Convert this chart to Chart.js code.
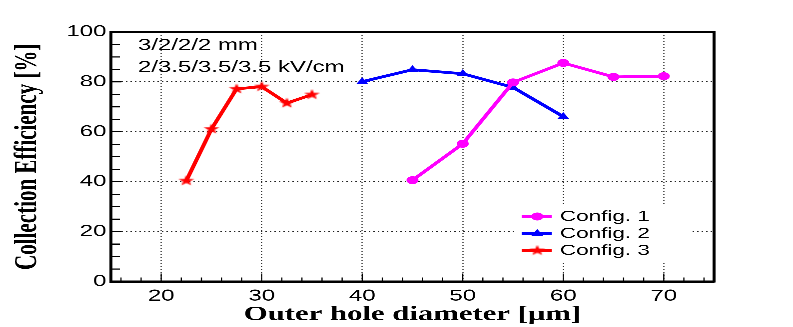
<!DOCTYPE html>
<html>
<head>
<meta charset="utf-8">
<script src="https://cdn.jsdelivr.net/npm/chart.js@4"></script>
<style>
html,body{margin:0;padding:0;background:#fff;overflow:hidden;width:793px;height:327px;}
#wrap{width:529px;height:327px;transform:scaleX(1.4991);transform-origin:0 0;}
</style>
</head>
<body>
<div id="wrap"><canvas id="c" width="529" height="327"></canvas></div>
<script>
// ---- data ----
const config1X = [45, 50, 55, 60, 65, 70];
const config1Y = [40.6, 55.2, 79.8, 87.6, 82.0, 82.3];
const config2X = [40, 45, 50, 55, 60];
const config2Y = [80.1, 84.9, 83.3, 77.8, 66.1];
const config3X = [22.5, 25, 27.5, 30, 32.5, 35];
const config3Y = [40.4, 61.1, 77.2, 78.1, 71.5, 74.9];
const seriesNames = ['Config. 1', 'Config. 2', 'Config. 3'];
const xTicks = [20, 30, 40, 50, 60, 70];
const yTicks = [0, 20, 40, 60, 80, 100];
const noteLines = ['3/2/2/2 mm', '2/3.5/3.5/3.5 kV/cm'];
const xTitle = 'Outer hole diameter [\u03BCm]';
const yTitle = 'Collection Efficiency [%]';

// star marker (canvas used directly as point style)
function makeStar(color, R) {
  const s = Math.ceil(R * 2 + 1);
  const cv = document.createElement('canvas');
  cv.width = s; cv.height = s;
  const g = cv.getContext('2d');
  g.translate(s / 2, s / 2);
  g.beginPath();
  for (let i = 0; i < 10; i++) {
    const r = i % 2 === 0 ? R : R * 0.42;
    const a = -Math.PI / 2 + i * Math.PI / 5;
    const px = r * Math.cos(a), py = r * Math.sin(a);
    if (i === 0) g.moveTo(px, py); else g.lineTo(px, py);
  }
  g.closePath();
  g.fillStyle = color;
  g.fill();
  return cv;
}
const starImg = makeStar('#ff0000', 5.5);

const toPts = (xs, ys) => xs.map((x, i) => ({x: x, y: ys[i]}));

const minorTicks = {
  id: 'minorTicks',
  beforeDatasetsDraw(chart) {
    const {ctx, chartArea: a, scales: {x, y}} = chart;
    ctx.save();
    ctx.strokeStyle = '#000';
    ctx.lineWidth = 0.8;
    ctx.beginPath();
    for (let v = 16; v < 75; v += 2) {
      const px = x.getPixelForValue(v);
      const len = (v % 10 === 0) ? 8 : 4;
      ctx.moveTo(px, a.bottom); ctx.lineTo(px, a.bottom - len);
    }
    ctx.stroke();
    ctx.lineWidth = 1.1;
    ctx.beginPath();
    for (let v = 5; v < 100; v += 5) {
      const py = y.getPixelForValue(v);
      const len = (v % 20 === 0) ? 7 : 6;
      ctx.moveTo(a.left, py); ctx.lineTo(a.left + len, py);
    }
    ctx.stroke();
    ctx.restore();
  }
};

const legendBox = {
  id: 'legendBox',
  afterDatasetsDraw(chart) {
    const {ctx} = chart;
    ctx.save();
    ctx.fillStyle = '#fff';
    ctx.fillRect(345, 206, 116, 56);
    const ys = [216.5, 233.5, 250.5];
    chart.data.datasets.forEach((ds, i) => {
      ctx.strokeStyle = ds.borderColor;
      ctx.lineWidth = 3;
      ctx.beginPath();
      ctx.moveTo(348, ys[i]); ctx.lineTo(368, ys[i]);
      ctx.stroke();
      ctx.fillStyle = ds.pointBackgroundColor;
      ctx.strokeStyle = ds.pointBorderColor;
      Chart.helpers.drawPoint(ctx, {
        pointStyle: ds.pointStyle, radius: ds.pointRadius, rotation: 0, borderWidth: 0
      }, 358.4, ys[i]);
      ctx.fillStyle = '#000';
      ctx.font = '15px "Liberation Sans", Arial, sans-serif';
      ctx.textBaseline = 'middle';
      ctx.textAlign = 'left';
      ctx.fillText(ds.label, 373.5, ys[i] + 0.5);
    });
    ctx.restore();
  }
};

const frameAndNote = {
  id: 'frameAndNote',
  afterDraw(chart) {
    const {ctx, chartArea: a} = chart;
    ctx.save();
    ctx.strokeStyle = '#000';
    ctx.lineWidth = 2;
    ctx.strokeRect(a.left, a.top, a.right - a.left, a.bottom - a.top);
    ctx.fillStyle = '#000';
    ctx.font = '16px "Liberation Sans", Arial, sans-serif';
    ctx.textBaseline = 'alphabetic';
    ctx.textAlign = 'left';
    ctx.fillText(noteLines[0], 92, 50);
    ctx.fillText(noteLines[1], 92, 72);
    ctx.restore();
  }
};

const boundHide = (c) => (c.tick && (c.tick.value === 0 || c.tick.value === 100 || c.tick.value === 15 || c.tick.value === 75)) ? 'rgba(0,0,0,0)' : '#222';

new Chart(document.getElementById('c'), {
  type: 'line',
  data: {
    datasets: [
      {label: seriesNames[0], data: toPts(config1X, config1Y), borderColor: '#ff00ff', backgroundColor: '#ff00ff',
       pointBackgroundColor: '#ff00ff', pointBorderColor: '#ff00ff', pointStyle: 'circle', pointRadius: 4, pointBorderWidth: 0, borderWidth: 2.8, tension: 0},
      {label: seriesNames[1], data: toPts(config2X, config2Y), borderColor: '#0000ff', backgroundColor: '#0000ff',
       pointBackgroundColor: '#0000ff', pointBorderColor: '#0000ff', pointStyle: 'triangle', pointRadius: 4.5, pointBorderWidth: 0, borderWidth: 2.8, tension: 0},
      {label: seriesNames[2], data: toPts(config3X, config3Y), borderColor: '#ff0000', backgroundColor: '#ff0000',
       pointBackgroundColor: '#ff0000', pointBorderColor: '#ff0000', pointStyle: starImg, pointRadius: 5, pointBorderWidth: 0, borderWidth: 2.8, tension: 0}
    ]
  },
  options: {
    responsive: false,
    animation: false,
    devicePixelRatio: 3,
    layout: {padding: {top: 32, right: 52.7, bottom: 0, left: 0}},
    plugins: {legend: {display: false}, tooltip: {enabled: false}},
    scales: {
      x: {
        type: 'linear', min: 15, max: 75,
        afterBuildTicks: (s) => { s.ticks = xTicks.map(v => ({value: v})); },
        afterFit: (s) => { s.height = 45.5; },
        ticks: {includeBounds: false, padding: 5, color: '#000', font: {family: '"Liberation Sans", Arial, sans-serif', size: 16}, maxRotation: 0},
        grid: {drawTicks: false, color: boundHide, lineWidth: 0.8},
        border: {display: true, color: '#000', width: 2, dash: [1, 2]},
        title: {display: true, text: xTitle, color: '#000', padding: {top: 3, bottom: 0},
                font: {family: '"Liberation Serif", "Times New Roman", serif', size: 20.5, weight: 'bold'}}
      },
      y: {
        type: 'linear', min: 0, max: 100,
        afterBuildTicks: (s) => { s.ticks = yTicks.map(v => ({value: v})); },
        afterFit: (s) => { s.width = 74; },
        ticks: {padding: 3, color: '#000', font: {family: '"Liberation Sans", Arial, sans-serif', size: 16}},
        grid: {drawTicks: false, color: boundHide, lineWidth: 1},
        border: {display: true, color: '#000', width: 2, dash: [1, 2]},
        title: {display: true, text: yTitle, color: '#000', padding: {top: 6, bottom: 0},
                font: {family: '"Liberation Serif", "Times New Roman", serif', size: 21, weight: 'bold'}}
      }
    }
  },
  plugins: [minorTicks, legendBox, frameAndNote]
});
</script>
</body>
</html>
